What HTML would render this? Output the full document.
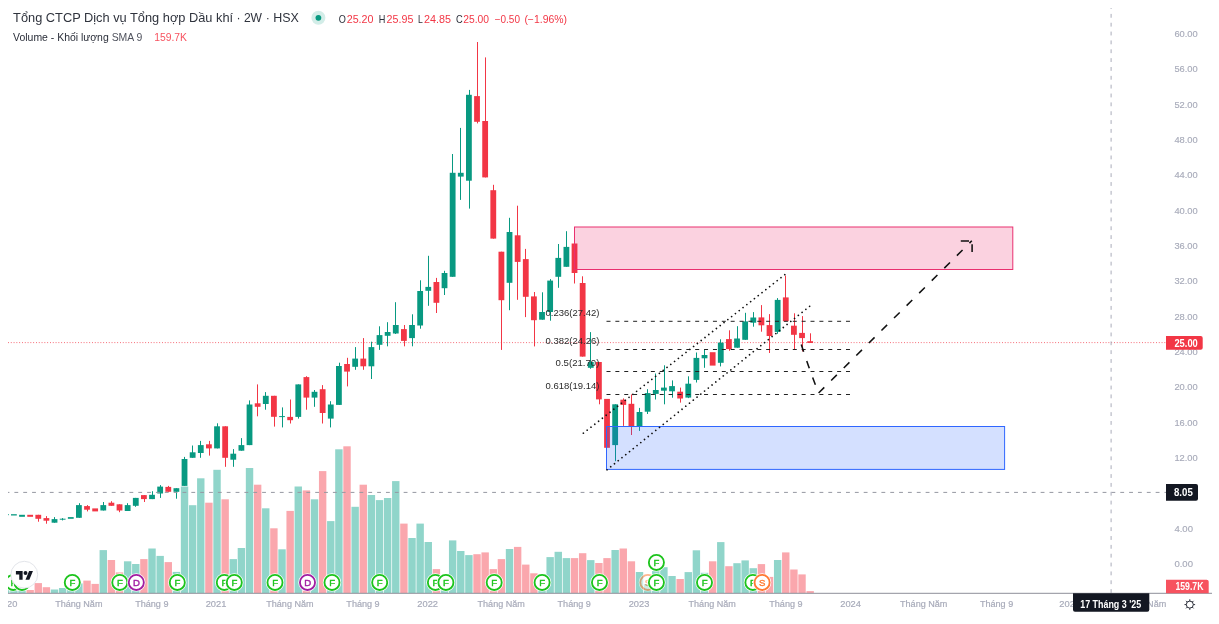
<!DOCTYPE html>
<html lang="vi"><head><meta charset="utf-8"><title>Chart</title>
<style>html,body{margin:0;padding:0;background:#fff;overflow:hidden}svg{display:block}text{white-space:pre}</style>
</head><body>
<svg width="1219" height="624" viewBox="0 0 1219 624">
<rect width="1219" height="624" fill="#fff"/>
<defs><clipPath id="pane"><rect x="8" y="0" width="1158" height="593.3"/></clipPath><clipPath id="tclip"><rect x="8" y="594" width="1160" height="30"/></clipPath></defs>
<g clip-path="url(#pane)">
<g>
<rect x="10.20" y="588.0" width="7.40" height="5.3" fill="#90d5ca"/>
<rect x="18.32" y="588.0" width="7.40" height="5.3" fill="#90d5ca"/>
<rect x="26.45" y="590.0" width="7.40" height="3.3" fill="#faa7ad"/>
<rect x="34.57" y="583.1" width="7.40" height="10.2" fill="#faa7ad"/>
<rect x="42.70" y="587.2" width="7.40" height="6.1" fill="#faa7ad"/>
<rect x="50.82" y="589.5" width="7.40" height="3.8" fill="#90d5ca"/>
<rect x="58.95" y="588.0" width="7.40" height="5.3" fill="#90d5ca"/>
<rect x="67.08" y="586.0" width="7.40" height="7.3" fill="#90d5ca"/>
<rect x="75.20" y="583.4" width="7.40" height="9.9" fill="#90d5ca"/>
<rect x="83.33" y="580.6" width="7.40" height="12.7" fill="#faa7ad"/>
<rect x="91.45" y="583.9" width="7.40" height="9.4" fill="#faa7ad"/>
<rect x="99.58" y="550.1" width="7.40" height="43.2" fill="#90d5ca"/>
<rect x="107.70" y="560.0" width="7.40" height="33.3" fill="#faa7ad"/>
<rect x="115.83" y="572.4" width="7.40" height="20.9" fill="#faa7ad"/>
<rect x="123.95" y="561.3" width="7.40" height="32.0" fill="#90d5ca"/>
<rect x="132.08" y="564.0" width="7.40" height="29.3" fill="#90d5ca"/>
<rect x="140.20" y="559.1" width="7.40" height="34.2" fill="#faa7ad"/>
<rect x="148.33" y="548.5" width="7.40" height="44.8" fill="#90d5ca"/>
<rect x="156.45" y="555.9" width="7.40" height="37.4" fill="#90d5ca"/>
<rect x="164.58" y="562.1" width="7.40" height="31.2" fill="#faa7ad"/>
<rect x="172.70" y="571.9" width="7.40" height="21.4" fill="#90d5ca"/>
<rect x="180.83" y="486.5" width="7.40" height="106.8" fill="#90d5ca"/>
<rect x="188.95" y="505.2" width="7.40" height="88.1" fill="#90d5ca"/>
<rect x="197.08" y="478.3" width="7.40" height="115.0" fill="#90d5ca"/>
<rect x="205.20" y="502.7" width="7.40" height="90.6" fill="#faa7ad"/>
<rect x="213.33" y="469.8" width="7.40" height="123.5" fill="#90d5ca"/>
<rect x="221.45" y="499.3" width="7.40" height="94.0" fill="#faa7ad"/>
<rect x="229.58" y="559.1" width="7.40" height="34.2" fill="#90d5ca"/>
<rect x="237.70" y="548.0" width="7.40" height="45.3" fill="#90d5ca"/>
<rect x="245.83" y="468.0" width="7.40" height="125.3" fill="#90d5ca"/>
<rect x="253.95" y="484.7" width="7.40" height="108.6" fill="#faa7ad"/>
<rect x="262.07" y="508.3" width="7.40" height="85.0" fill="#90d5ca"/>
<rect x="270.20" y="528.3" width="7.40" height="65.0" fill="#faa7ad"/>
<rect x="278.32" y="549.3" width="7.40" height="44.0" fill="#90d5ca"/>
<rect x="286.45" y="510.9" width="7.40" height="82.4" fill="#faa7ad"/>
<rect x="294.57" y="486.5" width="7.40" height="106.8" fill="#90d5ca"/>
<rect x="302.70" y="490.4" width="7.40" height="102.9" fill="#faa7ad"/>
<rect x="310.82" y="499.3" width="7.40" height="94.0" fill="#90d5ca"/>
<rect x="318.95" y="471.1" width="7.40" height="122.2" fill="#faa7ad"/>
<rect x="327.07" y="521.1" width="7.40" height="72.2" fill="#90d5ca"/>
<rect x="335.20" y="449.3" width="7.40" height="144.0" fill="#90d5ca"/>
<rect x="343.32" y="446.3" width="7.40" height="147.0" fill="#faa7ad"/>
<rect x="351.45" y="506.8" width="7.40" height="86.5" fill="#90d5ca"/>
<rect x="359.57" y="484.7" width="7.40" height="108.6" fill="#faa7ad"/>
<rect x="367.70" y="495.0" width="7.40" height="98.3" fill="#90d5ca"/>
<rect x="375.82" y="500.1" width="7.40" height="93.2" fill="#90d5ca"/>
<rect x="383.95" y="498.0" width="7.40" height="95.3" fill="#90d5ca"/>
<rect x="392.07" y="481.1" width="7.40" height="112.2" fill="#90d5ca"/>
<rect x="400.20" y="523.6" width="7.40" height="69.7" fill="#faa7ad"/>
<rect x="408.32" y="538.0" width="7.40" height="55.3" fill="#90d5ca"/>
<rect x="416.45" y="523.6" width="7.40" height="69.7" fill="#90d5ca"/>
<rect x="424.57" y="542.0" width="7.40" height="51.3" fill="#90d5ca"/>
<rect x="432.70" y="569.1" width="7.40" height="24.2" fill="#faa7ad"/>
<rect x="440.82" y="582.0" width="7.40" height="11.3" fill="#90d5ca"/>
<rect x="448.95" y="540.4" width="7.40" height="52.9" fill="#90d5ca"/>
<rect x="457.07" y="551.0" width="7.40" height="42.3" fill="#90d5ca"/>
<rect x="465.20" y="555.1" width="7.40" height="38.2" fill="#90d5ca"/>
<rect x="473.32" y="554.2" width="7.40" height="39.1" fill="#faa7ad"/>
<rect x="481.45" y="552.4" width="7.40" height="40.9" fill="#faa7ad"/>
<rect x="489.57" y="569.1" width="7.40" height="24.2" fill="#faa7ad"/>
<rect x="497.70" y="559.1" width="7.40" height="34.2" fill="#faa7ad"/>
<rect x="505.82" y="549.0" width="7.40" height="44.3" fill="#90d5ca"/>
<rect x="513.95" y="546.9" width="7.40" height="46.4" fill="#faa7ad"/>
<rect x="522.07" y="564.6" width="7.40" height="28.7" fill="#faa7ad"/>
<rect x="530.20" y="573.3" width="7.40" height="20.0" fill="#faa7ad"/>
<rect x="538.32" y="578.0" width="7.40" height="15.3" fill="#90d5ca"/>
<rect x="546.45" y="557.1" width="7.40" height="36.2" fill="#90d5ca"/>
<rect x="554.57" y="551.8" width="7.40" height="41.5" fill="#90d5ca"/>
<rect x="562.70" y="558.1" width="7.40" height="35.2" fill="#90d5ca"/>
<rect x="570.82" y="558.1" width="7.40" height="35.2" fill="#faa7ad"/>
<rect x="578.95" y="553.2" width="7.40" height="40.1" fill="#faa7ad"/>
<rect x="587.07" y="560.1" width="7.40" height="33.2" fill="#90d5ca"/>
<rect x="595.20" y="563.0" width="7.40" height="30.3" fill="#faa7ad"/>
<rect x="603.32" y="558.1" width="7.40" height="35.2" fill="#faa7ad"/>
<rect x="611.45" y="550.0" width="7.40" height="43.3" fill="#90d5ca"/>
<rect x="619.57" y="548.5" width="7.40" height="44.8" fill="#faa7ad"/>
<rect x="627.70" y="561.3" width="7.40" height="32.0" fill="#faa7ad"/>
<rect x="635.82" y="572.0" width="7.40" height="21.3" fill="#90d5ca"/>
<rect x="643.95" y="584.0" width="7.40" height="9.3" fill="#90d5ca"/>
<rect x="652.07" y="571.1" width="7.40" height="22.2" fill="#90d5ca"/>
<rect x="660.20" y="567.2" width="7.40" height="26.1" fill="#90d5ca"/>
<rect x="668.32" y="576.0" width="7.40" height="17.3" fill="#90d5ca"/>
<rect x="676.45" y="579.0" width="7.40" height="14.3" fill="#faa7ad"/>
<rect x="684.57" y="572.1" width="7.40" height="21.2" fill="#90d5ca"/>
<rect x="692.70" y="550.3" width="7.40" height="43.0" fill="#90d5ca"/>
<rect x="700.82" y="572.8" width="7.40" height="20.5" fill="#90d5ca"/>
<rect x="708.95" y="561.3" width="7.40" height="32.0" fill="#faa7ad"/>
<rect x="717.07" y="542.1" width="7.40" height="51.2" fill="#90d5ca"/>
<rect x="725.20" y="566.2" width="7.40" height="27.1" fill="#faa7ad"/>
<rect x="733.32" y="563.2" width="7.40" height="30.1" fill="#90d5ca"/>
<rect x="741.45" y="560.4" width="7.40" height="32.9" fill="#90d5ca"/>
<rect x="749.57" y="568.2" width="7.40" height="25.1" fill="#90d5ca"/>
<rect x="757.70" y="564.1" width="7.40" height="29.2" fill="#faa7ad"/>
<rect x="765.82" y="576.9" width="7.40" height="16.4" fill="#faa7ad"/>
<rect x="773.95" y="560.0" width="7.40" height="33.3" fill="#90d5ca"/>
<rect x="782.07" y="552.4" width="7.40" height="40.9" fill="#faa7ad"/>
<rect x="790.20" y="569.5" width="7.40" height="23.8" fill="#faa7ad"/>
<rect x="798.32" y="574.4" width="7.40" height="18.9" fill="#faa7ad"/>
<rect x="806.45" y="591.1" width="7.40" height="2.2" fill="#faa7ad"/>
<rect x="2.08" y="589" width="7.40" height="4.3" fill="#90d5ca"/>
</g>
<line x1="8" y1="342.6" x2="1166" y2="342.6" stroke="#f23645" stroke-opacity="0.8" stroke-width="1" stroke-dasharray="0.9 1.9"/>
<g>
<rect x="11.00" y="514.2" width="5.80" height="1.3" fill="#089981"/>
<rect x="19.12" y="514.8" width="5.80" height="2.0" fill="#089981"/>
<rect x="27.25" y="514.8" width="5.80" height="2.0" fill="#f23645"/>
<rect x="38" y="514.8" width="1" height="6.9" fill="#f23645"/>
<rect x="35.38" y="514.8" width="5.80" height="4.0" fill="#f23645"/>
<rect x="46" y="516.1" width="1" height="7.6" fill="#f23645"/>
<rect x="43.50" y="518.1" width="5.80" height="2.6" fill="#f23645"/>
<rect x="54" y="517.1" width="1" height="5.6" fill="#089981"/>
<rect x="51.62" y="519.1" width="5.80" height="3.6" fill="#089981"/>
<rect x="62" y="518.1" width="1" height="2.3" fill="#089981"/>
<rect x="59.75" y="518.7" width="5.80" height="1.0" fill="#089981"/>
<rect x="67.88" y="517.1" width="5.80" height="1.7" fill="#089981"/>
<rect x="79" y="503.2" width="1" height="14.6" fill="#089981"/>
<rect x="76.00" y="505.1" width="5.80" height="12.7" fill="#089981"/>
<rect x="87" y="505.1" width="1" height="6.3" fill="#f23645"/>
<rect x="84.12" y="506.1" width="5.80" height="3.6" fill="#f23645"/>
<rect x="92.25" y="508.4" width="5.80" height="3.0" fill="#f23645"/>
<rect x="103" y="502.0" width="1" height="8.5" fill="#089981"/>
<rect x="100.38" y="505.1" width="5.80" height="5.4" fill="#089981"/>
<rect x="111" y="501.2" width="1" height="4.6" fill="#f23645"/>
<rect x="108.50" y="502.7" width="5.80" height="3.1" fill="#f23645"/>
<rect x="119" y="504.3" width="1" height="7.9" fill="#f23645"/>
<rect x="116.62" y="504.3" width="5.80" height="6.2" fill="#f23645"/>
<rect x="127" y="503.2" width="1" height="7.8" fill="#089981"/>
<rect x="124.75" y="505.1" width="5.80" height="5.9" fill="#089981"/>
<rect x="135" y="497.9" width="1" height="8.9" fill="#089981"/>
<rect x="132.88" y="497.9" width="5.80" height="7.9" fill="#089981"/>
<rect x="144" y="495.1" width="1" height="6.9" fill="#f23645"/>
<rect x="141.00" y="495.1" width="5.80" height="4.0" fill="#f23645"/>
<rect x="152" y="491.2" width="1" height="7.9" fill="#089981"/>
<rect x="149.12" y="494.8" width="5.80" height="4.3" fill="#089981"/>
<rect x="160" y="485.1" width="1" height="12.8" fill="#089981"/>
<rect x="157.25" y="486.6" width="5.80" height="6.9" fill="#089981"/>
<rect x="168" y="485.9" width="1" height="5.9" fill="#f23645"/>
<rect x="165.38" y="486.9" width="5.80" height="4.9" fill="#f23645"/>
<rect x="176" y="488.2" width="1" height="10.5" fill="#089981"/>
<rect x="173.50" y="488.2" width="5.80" height="3.6" fill="#089981"/>
<rect x="184" y="456.9" width="1" height="29.0" fill="#089981"/>
<rect x="181.62" y="459.0" width="5.80" height="26.9" fill="#089981"/>
<rect x="192" y="445.5" width="1" height="12.3" fill="#089981"/>
<rect x="189.75" y="452.3" width="5.80" height="5.5" fill="#089981"/>
<rect x="200" y="440.9" width="1" height="16.9" fill="#089981"/>
<rect x="197.88" y="445.1" width="5.80" height="7.9" fill="#089981"/>
<rect x="209" y="440.9" width="1" height="14.7" fill="#f23645"/>
<rect x="206.00" y="444.3" width="5.80" height="4.1" fill="#f23645"/>
<rect x="217" y="423.3" width="1" height="25.1" fill="#089981"/>
<rect x="214.12" y="426.3" width="5.80" height="22.1" fill="#089981"/>
<rect x="225" y="426.3" width="1" height="40.5" fill="#f23645"/>
<rect x="222.25" y="426.3" width="5.80" height="31.5" fill="#f23645"/>
<rect x="233" y="449.1" width="1" height="17.7" fill="#089981"/>
<rect x="230.38" y="453.7" width="5.80" height="6.0" fill="#089981"/>
<rect x="241" y="438.1" width="1" height="12.6" fill="#089981"/>
<rect x="238.50" y="445.1" width="5.80" height="5.6" fill="#089981"/>
<rect x="249" y="400.4" width="1" height="44.7" fill="#089981"/>
<rect x="246.62" y="404.5" width="5.80" height="40.6" fill="#089981"/>
<rect x="257" y="384.4" width="1" height="31.9" fill="#f23645"/>
<rect x="254.75" y="403.3" width="5.80" height="3.5" fill="#f23645"/>
<rect x="265" y="392.1" width="1" height="17.6" fill="#089981"/>
<rect x="262.88" y="395.8" width="5.80" height="8.2" fill="#089981"/>
<rect x="274" y="395.8" width="1" height="30.8" fill="#f23645"/>
<rect x="271.00" y="395.8" width="5.80" height="21.0" fill="#f23645"/>
<rect x="282" y="407.4" width="1" height="20.0" fill="#089981"/>
<rect x="279.12" y="416.1" width="5.80" height="1.0" fill="#089981"/>
<rect x="290" y="399.5" width="1" height="24.0" fill="#f23645"/>
<rect x="287.25" y="416.9" width="5.80" height="3.3" fill="#f23645"/>
<rect x="298" y="384.4" width="1" height="34.2" fill="#089981"/>
<rect x="295.38" y="384.4" width="5.80" height="32.5" fill="#089981"/>
<rect x="306" y="376.2" width="1" height="33.5" fill="#f23645"/>
<rect x="303.50" y="377.1" width="5.80" height="20.5" fill="#f23645"/>
<rect x="314" y="390.0" width="1" height="16.8" fill="#089981"/>
<rect x="311.62" y="391.8" width="5.80" height="5.8" fill="#089981"/>
<rect x="322" y="385.1" width="1" height="38.4" fill="#f23645"/>
<rect x="319.75" y="389.2" width="5.80" height="23.8" fill="#f23645"/>
<rect x="330" y="401.2" width="1" height="26.2" fill="#089981"/>
<rect x="327.88" y="404.5" width="5.80" height="14.1" fill="#089981"/>
<rect x="339" y="362.7" width="1" height="42.2" fill="#089981"/>
<rect x="336.00" y="366.0" width="5.80" height="38.9" fill="#089981"/>
<rect x="347" y="357.8" width="1" height="28.6" fill="#f23645"/>
<rect x="344.12" y="364.0" width="5.80" height="7.6" fill="#f23645"/>
<rect x="355" y="347.1" width="1" height="22.7" fill="#089981"/>
<rect x="352.25" y="358.6" width="5.80" height="8.2" fill="#089981"/>
<rect x="363" y="338.1" width="1" height="31.7" fill="#f23645"/>
<rect x="360.38" y="358.6" width="5.80" height="7.7" fill="#f23645"/>
<rect x="371" y="341.7" width="1" height="37.3" fill="#089981"/>
<rect x="368.50" y="347.1" width="5.80" height="19.2" fill="#089981"/>
<rect x="379" y="326.3" width="1" height="23.6" fill="#089981"/>
<rect x="376.62" y="335.1" width="5.80" height="9.7" fill="#089981"/>
<rect x="387" y="322.2" width="1" height="24.1" fill="#089981"/>
<rect x="384.75" y="332.0" width="5.80" height="3.8" fill="#089981"/>
<rect x="395" y="302.2" width="1" height="31.8" fill="#089981"/>
<rect x="392.88" y="325.0" width="5.80" height="8.5" fill="#089981"/>
<rect x="404" y="325.0" width="1" height="21.3" fill="#f23645"/>
<rect x="401.00" y="329.1" width="5.80" height="11.8" fill="#f23645"/>
<rect x="412" y="314.3" width="1" height="32.0" fill="#089981"/>
<rect x="409.12" y="325.0" width="5.80" height="13.1" fill="#089981"/>
<rect x="420" y="280.3" width="1" height="48.4" fill="#089981"/>
<rect x="417.25" y="291.0" width="5.80" height="34.5" fill="#089981"/>
<rect x="428" y="255.8" width="1" height="50.0" fill="#089981"/>
<rect x="425.38" y="286.9" width="5.80" height="3.9" fill="#089981"/>
<rect x="436" y="277.9" width="1" height="35.1" fill="#f23645"/>
<rect x="433.50" y="282.0" width="5.80" height="20.8" fill="#f23645"/>
<rect x="444" y="270.8" width="1" height="24.2" fill="#089981"/>
<rect x="441.62" y="273.0" width="5.80" height="15.2" fill="#089981"/>
<rect x="452" y="154.0" width="1" height="122.8" fill="#089981"/>
<rect x="449.75" y="172.8" width="5.80" height="104.0" fill="#089981"/>
<rect x="460" y="127.9" width="1" height="72.0" fill="#089981"/>
<rect x="457.88" y="172.8" width="5.80" height="3.8" fill="#089981"/>
<rect x="469" y="89.9" width="1" height="118.7" fill="#089981"/>
<rect x="466.00" y="94.8" width="5.80" height="85.9" fill="#089981"/>
<rect x="477" y="42.0" width="1" height="81.4" fill="#f23645"/>
<rect x="474.12" y="96.1" width="5.80" height="25.7" fill="#f23645"/>
<rect x="485" y="57.4" width="1" height="120.0" fill="#f23645"/>
<rect x="482.25" y="121.0" width="5.80" height="56.4" fill="#f23645"/>
<rect x="493" y="184.8" width="1" height="53.8" fill="#f23645"/>
<rect x="490.38" y="190.2" width="5.80" height="48.4" fill="#f23645"/>
<rect x="501" y="251.7" width="1" height="98.2" fill="#f23645"/>
<rect x="498.50" y="251.7" width="5.80" height="48.5" fill="#f23645"/>
<rect x="509" y="217.8" width="1" height="92.4" fill="#089981"/>
<rect x="506.62" y="232.0" width="5.80" height="50.8" fill="#089981"/>
<rect x="517" y="205.7" width="1" height="94.1" fill="#f23645"/>
<rect x="514.75" y="235.3" width="5.80" height="26.6" fill="#f23645"/>
<rect x="525" y="248.9" width="1" height="68.2" fill="#f23645"/>
<rect x="522.88" y="259.1" width="5.80" height="37.7" fill="#f23645"/>
<rect x="534" y="292.0" width="1" height="54.4" fill="#f23645"/>
<rect x="531.00" y="296.4" width="5.80" height="23.8" fill="#f23645"/>
<rect x="542" y="292.3" width="1" height="27.4" fill="#089981"/>
<rect x="539.12" y="312.0" width="5.80" height="7.7" fill="#089981"/>
<rect x="550" y="279.1" width="1" height="41.6" fill="#089981"/>
<rect x="547.25" y="280.6" width="5.80" height="31.4" fill="#089981"/>
<rect x="558" y="244.0" width="1" height="43.8" fill="#089981"/>
<rect x="555.38" y="257.9" width="5.80" height="18.9" fill="#089981"/>
<rect x="566" y="231.2" width="1" height="35.6" fill="#089981"/>
<rect x="563.50" y="246.9" width="5.80" height="19.9" fill="#089981"/>
<rect x="574" y="243.5" width="1" height="40.0" fill="#f23645"/>
<rect x="571.62" y="243.5" width="5.80" height="29.5" fill="#f23645"/>
<rect x="582" y="276.3" width="1" height="80.3" fill="#f23645"/>
<rect x="579.75" y="283.0" width="5.80" height="73.6" fill="#f23645"/>
<rect x="590" y="332.1" width="1" height="36.7" fill="#089981"/>
<rect x="587.88" y="362.0" width="5.80" height="5.8" fill="#089981"/>
<rect x="599" y="362.0" width="1" height="42.3" fill="#f23645"/>
<rect x="596.00" y="362.0" width="5.80" height="37.4" fill="#f23645"/>
<rect x="604.12" y="398.9" width="5.80" height="48.9" fill="#f23645"/>
<rect x="615" y="404.3" width="1" height="56.9" fill="#089981"/>
<rect x="612.25" y="404.3" width="5.80" height="40.8" fill="#089981"/>
<rect x="623" y="398.4" width="1" height="27.5" fill="#f23645"/>
<rect x="620.38" y="399.7" width="5.80" height="5.2" fill="#f23645"/>
<rect x="631" y="394.4" width="1" height="40.6" fill="#f23645"/>
<rect x="628.50" y="403.8" width="5.80" height="23.0" fill="#f23645"/>
<rect x="639" y="407.9" width="1" height="23.0" fill="#089981"/>
<rect x="636.62" y="412.0" width="5.80" height="14.8" fill="#089981"/>
<rect x="647" y="389.2" width="1" height="24.8" fill="#089981"/>
<rect x="644.75" y="393.1" width="5.80" height="18.6" fill="#089981"/>
<rect x="655" y="373.5" width="1" height="26.0" fill="#089981"/>
<rect x="652.88" y="390.0" width="5.80" height="3.9" fill="#089981"/>
<rect x="664" y="365.3" width="1" height="39.0" fill="#089981"/>
<rect x="661.00" y="387.6" width="5.80" height="3.1" fill="#089981"/>
<rect x="672" y="380.4" width="1" height="17.3" fill="#089981"/>
<rect x="669.12" y="386.1" width="5.80" height="5.2" fill="#089981"/>
<rect x="680" y="387.6" width="1" height="15.0" fill="#f23645"/>
<rect x="677.25" y="391.7" width="5.80" height="6.8" fill="#f23645"/>
<rect x="688" y="376.3" width="1" height="21.8" fill="#089981"/>
<rect x="685.38" y="383.7" width="5.80" height="13.9" fill="#089981"/>
<rect x="696" y="352.5" width="1" height="30.0" fill="#089981"/>
<rect x="693.50" y="357.9" width="5.80" height="22.0" fill="#089981"/>
<rect x="704" y="349.3" width="1" height="18.5" fill="#089981"/>
<rect x="701.62" y="355.0" width="5.80" height="3.3" fill="#089981"/>
<rect x="709.75" y="352.2" width="5.80" height="13.4" fill="#f23645"/>
<rect x="720" y="339.3" width="1" height="27.1" fill="#089981"/>
<rect x="717.88" y="342.6" width="5.80" height="20.2" fill="#089981"/>
<rect x="729" y="330.3" width="1" height="20.5" fill="#f23645"/>
<rect x="726.00" y="339.1" width="5.80" height="10.0" fill="#f23645"/>
<rect x="737" y="326.2" width="1" height="21.5" fill="#089981"/>
<rect x="734.12" y="338.5" width="5.80" height="9.2" fill="#089981"/>
<rect x="745" y="312.8" width="1" height="27.0" fill="#089981"/>
<rect x="742.25" y="321.4" width="5.80" height="18.4" fill="#089981"/>
<rect x="753" y="312.1" width="1" height="14.6" fill="#089981"/>
<rect x="750.38" y="317.5" width="5.80" height="5.2" fill="#089981"/>
<rect x="761" y="305.1" width="1" height="26.6" fill="#f23645"/>
<rect x="758.50" y="317.4" width="5.80" height="7.9" fill="#f23645"/>
<rect x="769" y="314.1" width="1" height="38.9" fill="#f23645"/>
<rect x="766.62" y="325.1" width="5.80" height="10.9" fill="#f23645"/>
<rect x="777" y="298.1" width="1" height="35.7" fill="#089981"/>
<rect x="774.75" y="299.9" width="5.80" height="32.0" fill="#089981"/>
<rect x="785" y="275.6" width="1" height="45.6" fill="#f23645"/>
<rect x="782.88" y="297.4" width="5.80" height="23.8" fill="#f23645"/>
<rect x="794" y="313.3" width="1" height="36.7" fill="#f23645"/>
<rect x="791.00" y="325.7" width="5.80" height="9.1" fill="#f23645"/>
<rect x="802" y="316.1" width="1" height="35.3" fill="#f23645"/>
<rect x="799.12" y="332.9" width="5.80" height="5.2" fill="#f23645"/>
<rect x="810" y="333.3" width="1" height="9.7" fill="#f23645"/>
<rect x="807.25" y="341.2" width="5.80" height="1.8" fill="#f23645"/>
<rect x="2.88" y="514" width="5.80" height="1.2" fill="#089981"/>
</g>
</g>
<rect x="574.5" y="227.0" width="438.3" height="42.5" fill="rgba(233,30,99,0.2)" stroke="#e9306f" stroke-width="1"/>
<rect x="606.5" y="426.5" width="398.1" height="42.9" fill="rgba(41,98,255,0.2)" stroke="#2f66ff" stroke-width="1"/>
<line x1="606.5" y1="321.3" x2="850" y2="321.3" stroke="#222" stroke-width="1" stroke-dasharray="4 4.87"/>
<text x="599.4" y="315.7" text-anchor="end" textLength="53.9" lengthAdjust="spacingAndGlyphs" font-family="Liberation Sans, Arial, sans-serif" font-size="9.6" fill="#2b2b2b">0.236(27.42)</text>
<line x1="606.5" y1="349.5" x2="850" y2="349.5" stroke="#222" stroke-width="1" stroke-dasharray="4 4.87"/>
<text x="599.4" y="343.6" text-anchor="end" textLength="53.9" lengthAdjust="spacingAndGlyphs" font-family="Liberation Sans, Arial, sans-serif" font-size="9.6" fill="#2b2b2b">0.382(24.26)</text>
<line x1="606.5" y1="371.5" x2="850" y2="371.5" stroke="#222" stroke-width="1" stroke-dasharray="4 4.87"/>
<text x="599.4" y="366.2" text-anchor="end" textLength="43.8" lengthAdjust="spacingAndGlyphs" font-family="Liberation Sans, Arial, sans-serif" font-size="9.6" fill="#2b2b2b">0.5(21.70)</text>
<line x1="606.5" y1="394.5" x2="850" y2="394.5" stroke="#222" stroke-width="1" stroke-dasharray="4 4.87"/>
<text x="599.4" y="388.7" text-anchor="end" textLength="53.9" lengthAdjust="spacingAndGlyphs" font-family="Liberation Sans, Arial, sans-serif" font-size="9.6" fill="#2b2b2b">0.618(19.14)</text>
<line x1="583.4" y1="433.2" x2="784.85" y2="274.66" stroke="#111" stroke-width="1.7" stroke-linecap="round" stroke-dasharray="0.01 4.826"/>
<line x1="607" y1="469.8" x2="809.65" y2="306.26" stroke="#111" stroke-width="1.7" stroke-linecap="round" stroke-dasharray="0.01 4.811"/>
<path d="M801.3 344.5 Q809 369 818.6 393" fill="none" stroke="#111" stroke-width="1.55" stroke-dasharray="7.7 9.8"/>
<line x1="818.6" y1="393" x2="971.8" y2="240.8" stroke="#111" stroke-width="1.55" stroke-dasharray="8 9.72"/>
<path d="M960.8 240.9H969M972.1 244.2V252" fill="none" stroke="#111" stroke-width="1.55"/>
<line x1="8" y1="492.4" x2="1166" y2="492.4" stroke="#9598a1" stroke-width="1" stroke-dasharray="3.85 4.997" stroke-dashoffset="2.45"/>
<line x1="1111.1" y1="8" x2="1111.1" y2="593" stroke="#a9acb9" stroke-width="1" stroke-dasharray="3.85 5.0" stroke-dashoffset="2.95"/>
<rect x="8" y="592.8" width="1204" height="1" fill="#8e9099"/>
<g clip-path="url(#pane)">
<g opacity="1"><circle cx="13.3" cy="582.4" r="9.2" fill="#fff"/><circle cx="13.3" cy="582.4" r="7.55" fill="#fff" stroke="#1cc41c" stroke-width="1.85"/><text x="13.4" y="585.8" text-anchor="middle" font-family="Liberation Sans, Arial, sans-serif" font-size="9.6" stroke="#1cc41c" stroke-width="0.4" fill="#1cc41c">F</text></g>
<g opacity="1"><circle cx="22.0" cy="582.4" r="9.2" fill="#fff"/><circle cx="22.0" cy="582.4" r="7.55" fill="#fff" stroke="#1cc41c" stroke-width="1.85"/><text x="22.1" y="585.8" text-anchor="middle" font-family="Liberation Sans, Arial, sans-serif" font-size="9.6" stroke="#1cc41c" stroke-width="0.4" fill="#1cc41c">F</text></g>
<g opacity="1"><circle cx="72.3" cy="582.4" r="9.2" fill="#fff"/><circle cx="72.3" cy="582.4" r="7.55" fill="#fff" stroke="#1cc41c" stroke-width="1.85"/><text x="72.4" y="585.8" text-anchor="middle" font-family="Liberation Sans, Arial, sans-serif" font-size="9.6" stroke="#1cc41c" stroke-width="0.4" fill="#1cc41c">F</text></g>
<g opacity="1"><circle cx="119.8" cy="582.4" r="9.2" fill="#fff"/><circle cx="119.8" cy="582.4" r="7.55" fill="#fff" stroke="#1cc41c" stroke-width="1.85"/><text x="119.9" y="585.8" text-anchor="middle" font-family="Liberation Sans, Arial, sans-serif" font-size="9.6" stroke="#1cc41c" stroke-width="0.4" fill="#1cc41c">F</text></g>
<g opacity="1"><circle cx="136.3" cy="582.4" r="9.2" fill="#fff"/><circle cx="136.3" cy="582.4" r="7.55" fill="#fff" stroke="#a21ea2" stroke-width="1.85"/><text x="136.4" y="585.8" text-anchor="middle" font-family="Liberation Sans, Arial, sans-serif" font-size="9.6" stroke="#a21ea2" stroke-width="0.4" fill="#a21ea2">D</text></g>
<g opacity="1"><circle cx="177.3" cy="582.4" r="9.2" fill="#fff"/><circle cx="177.3" cy="582.4" r="7.55" fill="#fff" stroke="#1cc41c" stroke-width="1.85"/><text x="177.4" y="585.8" text-anchor="middle" font-family="Liberation Sans, Arial, sans-serif" font-size="9.6" stroke="#1cc41c" stroke-width="0.4" fill="#1cc41c">F</text></g>
<g opacity="1"><circle cx="224.3" cy="582.4" r="9.2" fill="#fff"/><circle cx="224.3" cy="582.4" r="7.55" fill="#fff" stroke="#1cc41c" stroke-width="1.85"/><text x="224.4" y="585.8" text-anchor="middle" font-family="Liberation Sans, Arial, sans-serif" font-size="9.6" stroke="#1cc41c" stroke-width="0.4" fill="#1cc41c">F</text></g>
<g opacity="1"><circle cx="234.3" cy="582.4" r="9.2" fill="#fff"/><circle cx="234.3" cy="582.4" r="7.55" fill="#fff" stroke="#1cc41c" stroke-width="1.85"/><text x="234.4" y="585.8" text-anchor="middle" font-family="Liberation Sans, Arial, sans-serif" font-size="9.6" stroke="#1cc41c" stroke-width="0.4" fill="#1cc41c">F</text></g>
<g opacity="1"><circle cx="275.0" cy="582.4" r="9.2" fill="#fff"/><circle cx="275.0" cy="582.4" r="7.55" fill="#fff" stroke="#1cc41c" stroke-width="1.85"/><text x="275.1" y="585.8" text-anchor="middle" font-family="Liberation Sans, Arial, sans-serif" font-size="9.6" stroke="#1cc41c" stroke-width="0.4" fill="#1cc41c">F</text></g>
<g opacity="1"><circle cx="307.5" cy="582.4" r="9.2" fill="#fff"/><circle cx="307.5" cy="582.4" r="7.55" fill="#fff" stroke="#a21ea2" stroke-width="1.85"/><text x="307.6" y="585.8" text-anchor="middle" font-family="Liberation Sans, Arial, sans-serif" font-size="9.6" stroke="#a21ea2" stroke-width="0.4" fill="#a21ea2">D</text></g>
<g opacity="1"><circle cx="332.0" cy="582.4" r="9.2" fill="#fff"/><circle cx="332.0" cy="582.4" r="7.55" fill="#fff" stroke="#1cc41c" stroke-width="1.85"/><text x="332.1" y="585.8" text-anchor="middle" font-family="Liberation Sans, Arial, sans-serif" font-size="9.6" stroke="#1cc41c" stroke-width="0.4" fill="#1cc41c">F</text></g>
<g opacity="1"><circle cx="379.7" cy="582.4" r="9.2" fill="#fff"/><circle cx="379.7" cy="582.4" r="7.55" fill="#fff" stroke="#1cc41c" stroke-width="1.85"/><text x="379.8" y="585.8" text-anchor="middle" font-family="Liberation Sans, Arial, sans-serif" font-size="9.6" stroke="#1cc41c" stroke-width="0.4" fill="#1cc41c">F</text></g>
<g opacity="1"><circle cx="435.4" cy="582.4" r="9.2" fill="#fff"/><circle cx="435.4" cy="582.4" r="7.55" fill="#fff" stroke="#1cc41c" stroke-width="1.85"/><text x="435.5" y="585.8" text-anchor="middle" font-family="Liberation Sans, Arial, sans-serif" font-size="9.6" stroke="#1cc41c" stroke-width="0.4" fill="#1cc41c">F</text></g>
<g opacity="1"><circle cx="445.9" cy="582.4" r="9.2" fill="#fff"/><circle cx="445.9" cy="582.4" r="7.55" fill="#fff" stroke="#1cc41c" stroke-width="1.85"/><text x="446.0" y="585.8" text-anchor="middle" font-family="Liberation Sans, Arial, sans-serif" font-size="9.6" stroke="#1cc41c" stroke-width="0.4" fill="#1cc41c">F</text></g>
<g opacity="1"><circle cx="494.2" cy="582.4" r="9.2" fill="#fff"/><circle cx="494.2" cy="582.4" r="7.55" fill="#fff" stroke="#1cc41c" stroke-width="1.85"/><text x="494.3" y="585.8" text-anchor="middle" font-family="Liberation Sans, Arial, sans-serif" font-size="9.6" stroke="#1cc41c" stroke-width="0.4" fill="#1cc41c">F</text></g>
<g opacity="1"><circle cx="542.1" cy="582.4" r="9.2" fill="#fff"/><circle cx="542.1" cy="582.4" r="7.55" fill="#fff" stroke="#1cc41c" stroke-width="1.85"/><text x="542.2" y="585.8" text-anchor="middle" font-family="Liberation Sans, Arial, sans-serif" font-size="9.6" stroke="#1cc41c" stroke-width="0.4" fill="#1cc41c">F</text></g>
<g opacity="1"><circle cx="599.5" cy="582.4" r="9.2" fill="#fff"/><circle cx="599.5" cy="582.4" r="7.55" fill="#fff" stroke="#1cc41c" stroke-width="1.85"/><text x="599.6" y="585.8" text-anchor="middle" font-family="Liberation Sans, Arial, sans-serif" font-size="9.6" stroke="#1cc41c" stroke-width="0.4" fill="#1cc41c">F</text></g>
<g opacity="0.55"><circle cx="647.9" cy="582.4" r="9.2" fill="#fff"/><circle cx="647.9" cy="582.4" r="7.55" fill="#fff" stroke="#ff7a33" stroke-width="1.85"/><text x="648.0" y="585.8" text-anchor="middle" font-family="Liberation Sans, Arial, sans-serif" font-size="9.6" stroke="#ff7a33" stroke-width="0.4" fill="#ff7a33">S</text></g>
<g opacity="1"><circle cx="656.4" cy="582.4" r="9.2" fill="#fff"/><circle cx="656.4" cy="582.4" r="7.55" fill="#fff" stroke="#1cc41c" stroke-width="1.85"/><text x="656.5" y="585.8" text-anchor="middle" font-family="Liberation Sans, Arial, sans-serif" font-size="9.6" stroke="#1cc41c" stroke-width="0.4" fill="#1cc41c">F</text></g>
<g opacity="1"><circle cx="704.5" cy="582.4" r="9.2" fill="#fff"/><circle cx="704.5" cy="582.4" r="7.55" fill="#fff" stroke="#1cc41c" stroke-width="1.85"/><text x="704.6" y="585.8" text-anchor="middle" font-family="Liberation Sans, Arial, sans-serif" font-size="9.6" stroke="#1cc41c" stroke-width="0.4" fill="#1cc41c">F</text></g>
<g opacity="1"><circle cx="752.9" cy="582.4" r="9.2" fill="#fff"/><circle cx="752.9" cy="582.4" r="7.55" fill="#fff" stroke="#1cc41c" stroke-width="1.85"/><text x="753.0" y="585.8" text-anchor="middle" font-family="Liberation Sans, Arial, sans-serif" font-size="9.6" stroke="#1cc41c" stroke-width="0.4" fill="#1cc41c">F</text></g>
<g opacity="1"><circle cx="762.1" cy="582.4" r="9.2" fill="#fff"/><circle cx="762.1" cy="582.4" r="7.55" fill="#fff" stroke="#ff7a33" stroke-width="1.85"/><text x="762.2" y="585.8" text-anchor="middle" font-family="Liberation Sans, Arial, sans-serif" font-size="9.6" stroke="#ff7a33" stroke-width="0.4" fill="#ff7a33">S</text></g>
<g opacity="1"><circle cx="656.4" cy="562.4" r="9.2" fill="#fff"/><circle cx="656.4" cy="562.4" r="7.55" fill="#fff" stroke="#1cc41c" stroke-width="1.85"/><text x="656.5" y="565.8" text-anchor="middle" font-family="Liberation Sans, Arial, sans-serif" font-size="9.6" stroke="#1cc41c" stroke-width="0.4" fill="#1cc41c">F</text></g>
</g>
<circle cx="24.3" cy="574.7" r="13.4" fill="#fff" stroke="#e3e5ea" stroke-width="1"/>
<g transform="translate(15.9 569.2) scale(0.48)" fill="#131722"><path d="M14 22H7V11H0V4h14v18zM28 22h-8l7.5-18h8L28 22z"/><circle cx="20" cy="8" r="4"/></g>
<g clip-path="url(#tclip)">
<text x="7.0" y="606.9" text-anchor="middle" textLength="20.7" lengthAdjust="spacingAndGlyphs" font-family="Liberation Sans, Arial, sans-serif" font-size="9.5" fill="#a8abba" stroke="#a8abba" stroke-width="0.2">2020</text>
<text x="78.8" y="606.9" text-anchor="middle" textLength="47.3" lengthAdjust="spacingAndGlyphs" font-family="Liberation Sans, Arial, sans-serif" font-size="9.5" fill="#a8abba" stroke="#a8abba" stroke-width="0.2">Tháng Năm</text>
<text x="289.9" y="606.9" text-anchor="middle" textLength="47.3" lengthAdjust="spacingAndGlyphs" font-family="Liberation Sans, Arial, sans-serif" font-size="9.5" fill="#a8abba" stroke="#a8abba" stroke-width="0.2">Tháng Năm</text>
<text x="501.2" y="606.9" text-anchor="middle" textLength="47.3" lengthAdjust="spacingAndGlyphs" font-family="Liberation Sans, Arial, sans-serif" font-size="9.5" fill="#a8abba" stroke="#a8abba" stroke-width="0.2">Tháng Năm</text>
<text x="712.2" y="606.9" text-anchor="middle" textLength="47.3" lengthAdjust="spacingAndGlyphs" font-family="Liberation Sans, Arial, sans-serif" font-size="9.5" fill="#a8abba" stroke="#a8abba" stroke-width="0.2">Tháng Năm</text>
<text x="923.7" y="606.9" text-anchor="middle" textLength="47.3" lengthAdjust="spacingAndGlyphs" font-family="Liberation Sans, Arial, sans-serif" font-size="9.5" fill="#a8abba" stroke="#a8abba" stroke-width="0.2">Tháng Năm</text>
<text x="1142.6" y="606.9" text-anchor="middle" textLength="47.3" lengthAdjust="spacingAndGlyphs" font-family="Liberation Sans, Arial, sans-serif" font-size="9.5" fill="#a8abba" stroke="#a8abba" stroke-width="0.2">Tháng Năm</text>
<text x="151.8" y="606.9" text-anchor="middle" textLength="33.3" lengthAdjust="spacingAndGlyphs" font-family="Liberation Sans, Arial, sans-serif" font-size="9.5" fill="#a8abba" stroke="#a8abba" stroke-width="0.2">Tháng 9</text>
<text x="363.0" y="606.9" text-anchor="middle" textLength="33.3" lengthAdjust="spacingAndGlyphs" font-family="Liberation Sans, Arial, sans-serif" font-size="9.5" fill="#a8abba" stroke="#a8abba" stroke-width="0.2">Tháng 9</text>
<text x="574.2" y="606.9" text-anchor="middle" textLength="33.3" lengthAdjust="spacingAndGlyphs" font-family="Liberation Sans, Arial, sans-serif" font-size="9.5" fill="#a8abba" stroke="#a8abba" stroke-width="0.2">Tháng 9</text>
<text x="785.9" y="606.9" text-anchor="middle" textLength="33.3" lengthAdjust="spacingAndGlyphs" font-family="Liberation Sans, Arial, sans-serif" font-size="9.5" fill="#a8abba" stroke="#a8abba" stroke-width="0.2">Tháng 9</text>
<text x="996.6" y="606.9" text-anchor="middle" textLength="33.3" lengthAdjust="spacingAndGlyphs" font-family="Liberation Sans, Arial, sans-serif" font-size="9.5" fill="#a8abba" stroke="#a8abba" stroke-width="0.2">Tháng 9</text>
<text x="216.0" y="606.9" text-anchor="middle" textLength="20.7" lengthAdjust="spacingAndGlyphs" font-family="Liberation Sans, Arial, sans-serif" font-size="9.5" fill="#a8abba" stroke="#a8abba" stroke-width="0.2">2021</text>
<text x="427.7" y="606.9" text-anchor="middle" textLength="20.7" lengthAdjust="spacingAndGlyphs" font-family="Liberation Sans, Arial, sans-serif" font-size="9.5" fill="#a8abba" stroke="#a8abba" stroke-width="0.2">2022</text>
<text x="639.0" y="606.9" text-anchor="middle" textLength="20.7" lengthAdjust="spacingAndGlyphs" font-family="Liberation Sans, Arial, sans-serif" font-size="9.5" fill="#a8abba" stroke="#a8abba" stroke-width="0.2">2023</text>
<text x="850.6" y="606.9" text-anchor="middle" textLength="20.7" lengthAdjust="spacingAndGlyphs" font-family="Liberation Sans, Arial, sans-serif" font-size="9.5" fill="#a8abba" stroke="#a8abba" stroke-width="0.2">2024</text>
<text x="1069.7" y="606.9" text-anchor="middle" textLength="20.7" lengthAdjust="spacingAndGlyphs" font-family="Liberation Sans, Arial, sans-serif" font-size="9.5" fill="#a8abba" stroke="#a8abba" stroke-width="0.2">2025</text>
</g>
<path d="M1073 593.3H1149.3V609.7a2 2 0 0 1-2 2H1075a2 2 0 0 1-2-2Z" fill="#131722"/>
<text x="1110.7" y="607.7" text-anchor="middle" textLength="61" lengthAdjust="spacingAndGlyphs" font-family="Liberation Sans, Arial, sans-serif" font-weight="bold" font-size="10" fill="#fff">17 Tháng 3 '25</text>
<text x="1174.4" y="566.9" textLength="18.6" lengthAdjust="spacingAndGlyphs" font-family="Liberation Sans, Arial, sans-serif" font-size="9.6" fill="#a8abba" stroke="#a8abba" stroke-width="0.15">0.00</text>
<text x="1174.4" y="531.5" textLength="18.6" lengthAdjust="spacingAndGlyphs" font-family="Liberation Sans, Arial, sans-serif" font-size="9.6" fill="#a8abba" stroke="#a8abba" stroke-width="0.15">4.00</text>
<text x="1174.4" y="496.2" textLength="18.6" lengthAdjust="spacingAndGlyphs" font-family="Liberation Sans, Arial, sans-serif" font-size="9.6" fill="#a8abba" stroke="#a8abba" stroke-width="0.15">8.00</text>
<text x="1174.4" y="460.9" textLength="23.3" lengthAdjust="spacingAndGlyphs" font-family="Liberation Sans, Arial, sans-serif" font-size="9.6" fill="#a8abba" stroke="#a8abba" stroke-width="0.15">12.00</text>
<text x="1174.4" y="425.5" textLength="23.3" lengthAdjust="spacingAndGlyphs" font-family="Liberation Sans, Arial, sans-serif" font-size="9.6" fill="#a8abba" stroke="#a8abba" stroke-width="0.15">16.00</text>
<text x="1174.4" y="390.2" textLength="23.3" lengthAdjust="spacingAndGlyphs" font-family="Liberation Sans, Arial, sans-serif" font-size="9.6" fill="#a8abba" stroke="#a8abba" stroke-width="0.15">20.00</text>
<text x="1174.4" y="354.9" textLength="23.3" lengthAdjust="spacingAndGlyphs" font-family="Liberation Sans, Arial, sans-serif" font-size="9.6" fill="#a8abba" stroke="#a8abba" stroke-width="0.15">24.00</text>
<text x="1174.4" y="319.5" textLength="23.3" lengthAdjust="spacingAndGlyphs" font-family="Liberation Sans, Arial, sans-serif" font-size="9.6" fill="#a8abba" stroke="#a8abba" stroke-width="0.15">28.00</text>
<text x="1174.4" y="284.2" textLength="23.3" lengthAdjust="spacingAndGlyphs" font-family="Liberation Sans, Arial, sans-serif" font-size="9.6" fill="#a8abba" stroke="#a8abba" stroke-width="0.15">32.00</text>
<text x="1174.4" y="248.9" textLength="23.3" lengthAdjust="spacingAndGlyphs" font-family="Liberation Sans, Arial, sans-serif" font-size="9.6" fill="#a8abba" stroke="#a8abba" stroke-width="0.15">36.00</text>
<text x="1174.4" y="213.5" textLength="23.3" lengthAdjust="spacingAndGlyphs" font-family="Liberation Sans, Arial, sans-serif" font-size="9.6" fill="#a8abba" stroke="#a8abba" stroke-width="0.15">40.00</text>
<text x="1174.4" y="178.2" textLength="23.3" lengthAdjust="spacingAndGlyphs" font-family="Liberation Sans, Arial, sans-serif" font-size="9.6" fill="#a8abba" stroke="#a8abba" stroke-width="0.15">44.00</text>
<text x="1174.4" y="142.9" textLength="23.3" lengthAdjust="spacingAndGlyphs" font-family="Liberation Sans, Arial, sans-serif" font-size="9.6" fill="#a8abba" stroke="#a8abba" stroke-width="0.15">48.00</text>
<text x="1174.4" y="107.5" textLength="23.3" lengthAdjust="spacingAndGlyphs" font-family="Liberation Sans, Arial, sans-serif" font-size="9.6" fill="#a8abba" stroke="#a8abba" stroke-width="0.15">52.00</text>
<text x="1174.4" y="72.2" textLength="23.3" lengthAdjust="spacingAndGlyphs" font-family="Liberation Sans, Arial, sans-serif" font-size="9.6" fill="#a8abba" stroke="#a8abba" stroke-width="0.15">56.00</text>
<text x="1174.4" y="36.9" textLength="23.3" lengthAdjust="spacingAndGlyphs" font-family="Liberation Sans, Arial, sans-serif" font-size="9.6" fill="#a8abba" stroke="#a8abba" stroke-width="0.15">60.00</text>
<path d="M1166 336H1200.7a2 2 0 0 1 2 2V347.8a2 2 0 0 1-2 2H1166Z" fill="#f23645"/>
<text x="1197.8" y="346.5" text-anchor="end" textLength="23.4" lengthAdjust="spacingAndGlyphs" font-family="Liberation Sans, Arial, sans-serif" font-weight="bold" font-size="10" fill="#fff">25.00</text>
<path d="M1166 484H1196a2 2 0 0 1 2 2V498.8a2 2 0 0 1-2 2H1166Z" fill="#131722"/>
<text x="1192.8" y="495.9" text-anchor="end" textLength="18.8" lengthAdjust="spacingAndGlyphs" font-family="Liberation Sans, Arial, sans-serif" font-weight="bold" font-size="10" fill="#fff">8.05</text>
<path d="M1166 579.8H1206.7a2 2 0 0 1 2 2V593.3H1166Z" fill="#f7525f"/>
<text x="1203.5" y="589.9" text-anchor="end" textLength="28.1" lengthAdjust="spacingAndGlyphs" font-family="Liberation Sans, Arial, sans-serif" font-weight="bold" font-size="10" fill="#fff">159.7K</text>
<g stroke="#2a2e39" stroke-width="1" fill="none"><circle cx="1189.8" cy="604.6" r="3.5"/><line x1="1193.30" y1="604.60" x2="1195.10" y2="604.60"/><line x1="1192.27" y1="607.07" x2="1193.55" y2="608.35"/><line x1="1189.80" y1="608.10" x2="1189.80" y2="609.90"/><line x1="1187.33" y1="607.07" x2="1186.05" y2="608.35"/><line x1="1186.30" y1="604.60" x2="1184.50" y2="604.60"/><line x1="1187.33" y1="602.13" x2="1186.05" y2="600.85"/><line x1="1189.80" y1="601.10" x2="1189.80" y2="599.30"/><line x1="1192.27" y1="602.13" x2="1193.55" y2="600.85"/></g>
<text y="21.8" font-family="Liberation Sans, Arial, sans-serif" font-size="12.2" fill="#2f333d"><tspan x="13.1" textLength="220" lengthAdjust="spacingAndGlyphs">Tổng CTCP Dịch vụ Tổng hợp Dầu khí</tspan><tspan> </tspan><tspan x="236.4">·</tspan><tspan> </tspan><tspan x="243.9" textLength="18.1" lengthAdjust="spacingAndGlyphs">2W</tspan><tspan> </tspan><tspan x="265.7">·</tspan><tspan> </tspan><tspan x="273.2" textLength="25.6" lengthAdjust="spacingAndGlyphs">HSX</tspan></text>
<circle cx="318.4" cy="17.8" r="7" fill="#d3ede8"/><circle cx="318.4" cy="17.8" r="2.9" fill="#089981"/>
<text x="338.8" y="23" textLength="7.1" lengthAdjust="spacingAndGlyphs" font-family="Liberation Sans, Arial, sans-serif" font-size="10.2" fill="#2a2e39">O</text>
<text x="346.7" y="23" textLength="26.8" lengthAdjust="spacingAndGlyphs" font-family="Liberation Sans, Arial, sans-serif" font-size="10.2" fill="#f23645">25.20</text>
<text x="378.7" y="23" textLength="6.6" lengthAdjust="spacingAndGlyphs" font-family="Liberation Sans, Arial, sans-serif" font-size="10.2" fill="#2a2e39">H</text>
<text x="386.6" y="23" textLength="26.8" lengthAdjust="spacingAndGlyphs" font-family="Liberation Sans, Arial, sans-serif" font-size="10.2" fill="#f23645">25.95</text>
<text x="418.0" y="23" textLength="4.8" lengthAdjust="spacingAndGlyphs" font-family="Liberation Sans, Arial, sans-serif" font-size="10.2" fill="#2a2e39">L</text>
<text x="424.0" y="23" textLength="27.0" lengthAdjust="spacingAndGlyphs" font-family="Liberation Sans, Arial, sans-serif" font-size="10.2" fill="#f23645">24.85</text>
<text x="456.0" y="23" textLength="6.7" lengthAdjust="spacingAndGlyphs" font-family="Liberation Sans, Arial, sans-serif" font-size="10.2" fill="#2a2e39">C</text>
<text x="463.2" y="23" textLength="25.8" lengthAdjust="spacingAndGlyphs" font-family="Liberation Sans, Arial, sans-serif" font-size="10.2" fill="#f23645">25.00</text>
<text x="494.7" y="23" textLength="25.3" lengthAdjust="spacingAndGlyphs" font-family="Liberation Sans, Arial, sans-serif" font-size="10.2" fill="#f23645">−0.50</text>
<text x="524.4" y="23" textLength="42.6" lengthAdjust="spacingAndGlyphs" font-family="Liberation Sans, Arial, sans-serif" font-size="10.2" fill="#f23645">(−1.96%)</text>
<text x="13.1" y="41" textLength="129.3" lengthAdjust="spacingAndGlyphs" font-family="Liberation Sans, Arial, sans-serif" font-size="10" fill="#2a2e39">Volume - Khối lượng <tspan fill="#50535e">SMA 9</tspan></text>
<text x="154.2" y="41" textLength="32.8" lengthAdjust="spacingAndGlyphs" font-family="Liberation Sans, Arial, sans-serif" font-size="10" fill="#f7525f">159.7K</text>
</svg>
</body></html>
